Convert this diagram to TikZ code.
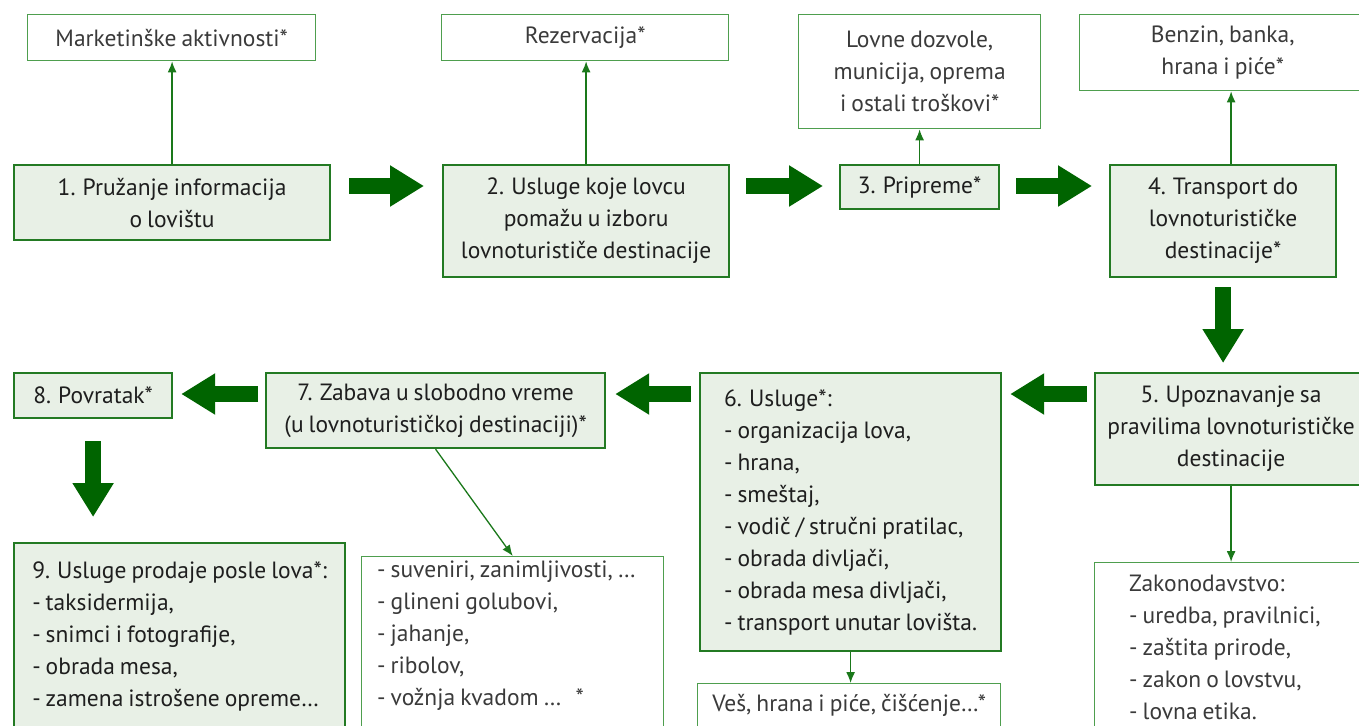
\documentclass[tikz,border=0pt]{standalone}
\usepackage{fontspec}
\setmainfont{PT Sans}[WordSpace=0.8]
\usetikzlibrary{arrows.meta,calc}
\definecolor{mainbd}{HTML}{237A23}
\definecolor{mainfill}{HTML}{E8F0E6}
\definecolor{bigarr}{HTML}{006400}
\definecolor{lightbd}{HTML}{4E9E4E}
\definecolor{thinln}{HTML}{1A781A}
\definecolor{txt}{HTML}{1E1E1E}
\definecolor{txtl}{HTML}{3A3A3A}
\begin{document}
\begin{tikzpicture}[x=1pt,y=-1pt,
  every node/.style={font=\fontsize{23.5}{32}\selectfont, text=txt, inner sep=0pt},
  mainbox/.style={draw=mainbd, fill=mainfill, line width=2.2pt, rectangle, anchor=north west, align=center},
  litebox/.style={draw=lightbd, line width=1.4pt, fill=white, rectangle, anchor=north west, align=center, text=txtl},
  bigarrow/.style={draw=bigarr, line width=16pt, -{Triangle[length=34pt,width=39pt]}},
  thinarrow/.style={draw=thinln, line width=1.3pt, -{Latex[length=11pt,width=9pt]}},
  listtext/.style={anchor=north west, align=left, text=txtl},
]
\clip (0,0) rectangle (1359,725);
\fill[white] (0,0) rectangle (1359,725);

% top row, white boxes
\node[litebox, minimum width=288, minimum height=46] (mk) at (27,14) {Marketinške aktivnosti*};
\node[litebox, minimum width=287, minimum height=46] (rez) at (441,14) {Rezervacija*};
\node[litebox, minimum width=242, minimum height=114] (doz) at (798,14) {Lovne dozvole,\\ municija, oprema\\ i ostali troškovi*};
\node[litebox, minimum width=286, minimum height=76] (ben) at (1079,14) {Benzin, banka,\\ hrana i piće*};

% main row 1
\node[mainbox, minimum width=316, minimum height=75] (b1) at (13,164) {1. Pružanje informacija\\ o lovištu};
\node[mainbox, minimum width=286, minimum height=112] (b2) at (442,164) {2. Usluge koje lovcu\\ pomažu u izboru\\ lovnoturističe destinacije};
\node[mainbox, minimum width=159, minimum height=44] (b3) at (839,164) {3. Pripreme*};
\node[mainbox, minimum width=226, minimum height=112] (b4) at (1109,164) {4. Transport do\\ lovnoturističke\\ destinacije*};

% main row 2
\node[mainbox, minimum width=272, minimum height=112] (b5) at (1094,372) {5. Upoznavanje sa\\ pravilima lovnoturističke\\ destinacije};
\node[mainbox, minimum width=301, minimum height=278, align=left] (b6) at (699,372) {6. Usluge*:\\ - organizacija lova,\\ - hrana,\\ - smeštaj,\\ - vodič / stručni pratilac,\\ - obrada divljači,\\ - obrada mesa divljači,\\ - transport unutar lovišta.};
\node[mainbox, minimum width=339, minimum height=75] (b7) at (265,372) {7. Zabava u slobodno vreme\\ (u lovnoturističkoj destinaciji)*};
\node[mainbox, minimum width=158, minimum height=45] (b8) at (13,372) {8. Povratak*};
\node[mainbox, minimum width=331, minimum height=186, align=left] (b9) at (13,542) {9. Usluge prodaje posle lova*:\\ - taksidermija,\\ - snimci i fotografije,\\ - obrada mesa,\\ - zamena istrošene opreme…};

% bottom white boxes
\node[litebox, minimum width=302, minimum height=200] (l7) at (361,556) {};
\node[listtext] (l7t) at ([shift={(16,5)}]l7.north west) {- suveniri, zanimljivosti, …\\ - glineni golubovi,\\ - jahanje,\\ - ribolov,\\ - vožnja kvadom …\hspace{14pt}*};
\node[litebox, minimum width=303, minimum height=44] (ves) at (697,683) {Veš, hrana i piće, čišćenje…*};
\node[litebox, minimum width=272, minimum height=200] (zak) at (1094,562) {};
\node[listtext] (zakt) at ([shift={(35,13)}]zak.north west) {Zakonodavstvo:\\ - uredba, pravilnici,\\ - zaštita prirode,\\ - zakon o lovstvu,\\ - lovna etika.};

% big arrows
\draw[bigarrow] ([shift={(18,22)}]b1.north east) -- ([shift={(-18,22)}]b2.north west);
\draw[bigarrow] ([shift={(16,22)}]b2.north east) -- ([shift={(-16,22)}]b3.north west);
\draw[bigarrow] ([shift={(16,22)}]b3.north east) -- ([shift={(-17,22)}]b4.north west);
\draw[bigarrow] ($(b4.south)+(0,9)$) -- ($(b4.south |- b5.north)+(0,-9)$);
\draw[bigarrow] ([shift={(-7,22)}]b5.north west) -- ([shift={(8,22)}]b6.north east);
\draw[bigarrow] ([shift={(-8,22)}]b6.north west) -- ([shift={(9,22)}]b7.north east);
\draw[bigarrow] ([shift={(-7,22)}]b7.north west) -- ([shift={(8,22)}]b8.north east);
\draw[bigarrow] ($(b8.south)+(0,22)$) -- ($(b8.south |- b9.north)+(0,-25)$);

% thin arrows
\coordinate (c4) at ($(b4.north)+(8,0)$);
\draw[thinarrow] (b1.north) -- (b1.north |- mk.south);
\draw[thinarrow] (b2.north) -- (b2.north |- rez.south);
\draw[thinarrow] (b3.north) -- (b3.north |- doz.south);
\draw[thinarrow] (c4) -- (c4 |- ben.south);
\draw[thinarrow] (b5.south) -- (b5.south |- zak.north);
\draw[thinarrow] (b6.south) -- (b6.south |- ves.north);
\draw[thinarrow] (b7.south) -- (l7.north);
\end{tikzpicture}
\end{document}
